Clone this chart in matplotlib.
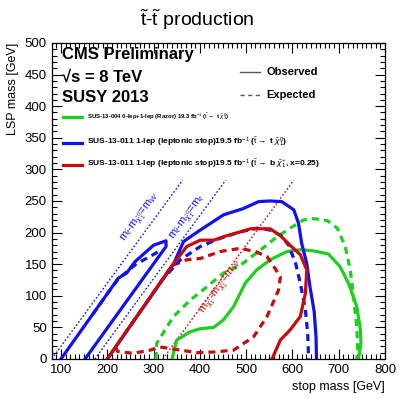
import matplotlib
matplotlib.use("Agg")
import matplotlib.pyplot as plt
from matplotlib.ticker import MultipleLocator

plt.rcParams['font.family'] = ['Liberation Sans', 'DejaVu Sans']
plt.rcParams['mathtext.fontset'] = 'custom'
plt.rcParams['mathtext.rm'] = 'Liberation Sans'
plt.rcParams['mathtext.it'] = 'Liberation Sans:italic'
plt.rcParams['mathtext.bf'] = 'Liberation Sans:bold'

# ---- data (stop mass, LSP mass) ----
blue_strip_x = [100, 224, 242, 260, 300, 327, 327, 152]
blue_strip_y = [0, 128, 136, 154, 180, 187, 178, 0]
blue_strip_exp_x = [168, 205, 224, 262, 304, 318]
blue_strip_exp_y = [70, 108, 127, 150, 167, 174]

blue_obs_x = [200, 343, 365, 401, 451, 494, 527, 552, 577, 603, 613, 620, 631, 638, 647, 651, 652]
blue_obs_y = [0, 150, 186, 204, 228, 238, 249, 250, 249, 236, 215, 183, 151, 114, 75, 35, 0]
blue_exp_x = [332, 358, 401, 444, 487, 523, 552, 574, 592, 607, 617, 628, 633, 635]
blue_exp_y = [136, 157, 178, 191, 201, 207, 204, 196, 180, 151, 120, 78, 40, 0]

red_obs_x = [200, 343, 372, 401, 430, 458, 487, 509, 552, 574, 595, 617, 631, 628, 617, 595, 574, 556]
red_obs_y = [0, 151, 178, 188, 188, 195, 201, 206, 206, 195, 180, 165, 141, 104, 67, 46, 30, 0]
red_exp_x = [218, 222, 256, 293, 314, 358, 394, 430, 473, 516, 545, 570, 574, 560, 545, 520, 487, 444, 401, 372, 351, 340, 290, 250, 218]
red_exp_y = [19, 12, 9, 14, 19, 14, 10, 11, 14, 35, 67, 109, 130, 146, 162, 170, 175, 170, 159, 157, 151, 148, 95, 53, 19]

green_obs_x = [340, 350, 379, 401, 430, 451, 473, 498, 523, 552, 588, 617, 646, 678, 703, 721, 739, 747, 748, 743]
green_obs_y = [0, 30, 43, 48, 50, 62, 83, 120, 141, 157, 170, 173, 171, 166, 146, 120, 83, 46, 25, 0]
green_exp_x = [305, 307, 343, 379, 415, 451, 487, 530, 566, 595, 624, 646, 675, 697, 714, 725, 732, 739, 741, 739]
green_exp_y = [0, 25, 67, 93, 114, 136, 148, 172, 193, 207, 220, 222, 219, 207, 178, 141, 99, 51, 20, 0]

diag_offsets = [80, 173, 320]   # m_W, m_t, 4*m_W (x=0.25)
diag_top = 283

xticks = [100, 200, 300, 400, 500, 600, 700, 800]
yticks = [0, 50, 100, 150, 200, 250, 300, 350, 400, 450, 500]

GREEN = '#1fcf1f'
BLUE = '#1010f0'
RED = '#c80a0a'

fig = plt.figure(figsize=(4.15, 3.99), dpi=100)
ax = fig.add_axes([0.1246, 0.1003, 0.8031, 0.792])
ax.set_xlim(80, 800)
ax.set_ylim(0, 500)

# diagonal dotted lines
for off, col in zip(diag_offsets, [BLUE, BLUE, RED]):
    xs = [max(80, off), diag_top + off]
    ys = [x - off for x in xs]
    ax.plot(xs, ys, ls=(0, (1.2, 1.5)), color=col, lw=1.0)

lw = 2.3
dash = (0, (2.2, 1.6))
ax.plot(green_exp_x, green_exp_y, color=GREEN, lw=lw, ls=dash)
ax.plot(green_obs_x, green_obs_y, color=GREEN, lw=lw)
ax.plot(red_exp_x, red_exp_y, color=RED, lw=lw, ls=dash)
ax.plot(blue_exp_x, blue_exp_y, color=BLUE, lw=lw, ls=dash)
ax.plot(blue_strip_exp_x, blue_strip_exp_y, color=BLUE, lw=lw, ls=dash)
ax.plot(blue_obs_x, blue_obs_y, color=BLUE, lw=lw)
ax.plot(blue_strip_x, blue_strip_y, color=BLUE, lw=lw)
ax.plot(red_obs_x, red_obs_y, color=RED, lw=lw)

# diagonal labels
ax.text(271, 225, r'm$_{\tilde{t}}$-m$_{\tilde{\chi}^0_1}$=m$_W$', color=BLUE, fontsize=8,
        rotation=54, ha='center', va='center')
ax.text(375, 224, r'm$_{\tilde{t}}$-m$_{\tilde{\chi}^0_1}$=m$_t$', color=BLUE, fontsize=8,
        rotation=54, ha='center', va='center')
ax.text(446, 114, r'm$_{\tilde{\chi}^{\pm}_1}$-m$_{\tilde{\chi}^0_1}$=m$_W$', color=RED, fontsize=8,
        rotation=54, ha='center', va='center')

# header texts
ax.text(102, 481, 'CMS Preliminary', fontsize=12, fontweight='bold', va='center')
ax.text(102, 445, '√s = 8 TeV', fontsize=12, fontweight='bold', va='center')
ax.text(102, 414, 'SUSY 2013', fontsize=12, fontweight='bold', va='center')

ax.plot([487, 530], [454, 454], color='#555555', lw=1)
ax.text(543, 454, 'Observed', fontsize=8, fontweight='bold', va='center')
ax.plot([487, 530], [418, 418], color='#555555', lw=1, ls=(0, (3, 2.5)))
ax.text(543, 418, 'Expected', fontsize=8, fontweight='bold', va='center')

leg_y = [383, 342, 307]
leg_cols = [GREEN, BLUE, RED]
leg_size = [4.3, 6, 6]
leg_txt = [
    r'SUS-13-004 0-lep+1-lep (Razor) 19.3 fb$^{-1}$ ($\tilde{\rm t}\rightarrow$ t $\tilde{\chi}^{0}_{1}$)',
    r'SUS-13-011 1-lep (leptonic stop)19.5 fb$^{-1}$ ($\tilde{\rm t}\rightarrow$ t $\tilde{\chi}^{0}_{1}$)',
    r'SUS-13-011 1-lep (leptonic stop)19.5 fb$^{-1}$ ($\tilde{\rm t}\rightarrow$ b $\tilde{\chi}^{+}_{1}$, x=0.25)',
]
for yy, cc, tt, fs in zip(leg_y, leg_cols, leg_txt, leg_size):
    ax.plot([104, 145], [yy, yy], color=cc, lw=2.3)
    ax.text(156, yy, tt, fontsize=fs, fontweight='bold', va='center')

# ticks
ax.set_xticks(xticks)
ax.set_yticks(yticks)
ax.xaxis.set_minor_locator(MultipleLocator(10))
ax.yaxis.set_minor_locator(MultipleLocator(10))
ax.tick_params(which='both', direction='in', top=True, right=True, labelsize=9.5)
ax.tick_params(which='major', length=7, width=0.8)
ax.tick_params(which='minor', length=3.5, width=0.8)
for s in ax.spines.values():
    s.set_linewidth(0.9)

ax.set_xlabel('stop mass [GeV]', fontsize=9, ha='right', x=1.0)
ax.set_ylabel('LSP mass [GeV]', fontsize=9, ha='right', y=1.0)

fig.text(0.475, 0.95, r'$\tilde{\rm t}$-$\tilde{\rm t}$ production', fontsize=14, ha='center', va='center')

fig.savefig('out.png', dpi=100)
